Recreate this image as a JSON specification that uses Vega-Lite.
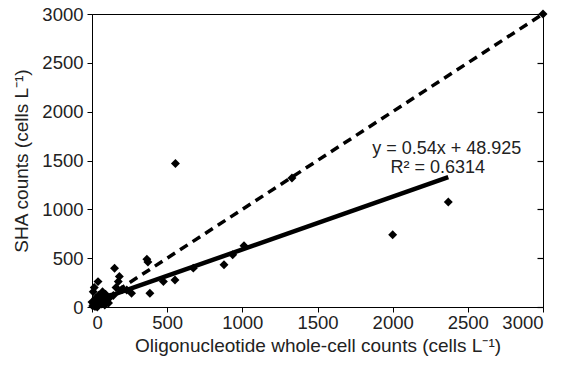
{
  "$schema": "https://vega.github.io/schema/vega-lite/v6.json",
  "width": 451,
  "height": 293,
  "autosize": {"type": "none"},
  "padding": {"left": 92, "top": 14, "right": 22, "bottom": 64},
  "background": "white",
  "config": {
    "view": {"stroke": "black", "strokeWidth": 1},
    "font": "Liberation Sans",
    "axis": {
      "grid": false,
      "domainColor": "black",
      "tickColor": "black",
      "labelColor": "#222",
      "titleColor": "#222",
      "labelFont": "Liberation Sans",
      "titleFont": "Liberation Sans",
      "labelFontSize": 18.5,
      "titleFontSize": 19,
      "titleFontWeight": "normal",
      "tickSize": 5,
      "format": "d"
    }
  },
  "datasets": {
    "pts": [
      {"x": 5, "y": 10}, {"x": 10, "y": 30}, {"x": 15, "y": 60}, {"x": 20, "y": 5},
      {"x": 25, "y": 90}, {"x": 30, "y": 20}, {"x": 8, "y": 157}, {"x": 40, "y": 260},
      {"x": 50, "y": 40}, {"x": 60, "y": 110}, {"x": 70, "y": 157}, {"x": 75, "y": 60},
      {"x": 85, "y": 20}, {"x": 90, "y": 130}, {"x": 100, "y": 80}, {"x": 110, "y": 40},
      {"x": 120, "y": 100}, {"x": 142, "y": 118}, {"x": 150, "y": 397}, {"x": 160, "y": 200},
      {"x": 175, "y": 260}, {"x": 182, "y": 312}, {"x": 200, "y": 180}, {"x": 231, "y": 175},
      {"x": 263, "y": 141}, {"x": 365, "y": 490}, {"x": 372, "y": 460}, {"x": 385, "y": 141},
      {"x": 475, "y": 260}, {"x": 552, "y": 277}, {"x": 555, "y": 1470}, {"x": 674, "y": 398},
      {"x": 878, "y": 432}, {"x": 936, "y": 534}, {"x": 1011, "y": 627}, {"x": 1330, "y": 1320},
      {"x": 2000, "y": 740}, {"x": 2370, "y": 1075}, {"x": 35, "y": 0}, {"x": 0, "y": 50},
      {"x": 45, "y": 120}, {"x": 15, "y": 200}, {"x": 65, "y": 30}, {"x": 3000, "y": 3000}
    ],
    "fit": [{"x": 0, "y": 48.925}, {"x": 2370, "y": 1328.7}],
    "oneone": [{"x": 0, "y": 0}, {"x": 3000, "y": 3000}],
    "notes": [
      {"x": 2360, "y": 1614, "label": "y = 0.54x + 48.925"},
      {"x": 2300, "y": 1425, "label": "R² = 0.6314"}
    ]
  },
  "layer": [
    {
      "data": {"name": "oneone"},
      "mark": {"type": "line", "color": "black", "strokeWidth": 3.5, "strokeDash": [9, 6]},
      "encoding": {
        "x": {"field": "x", "type": "quantitative", "scale": {"domain": [0, 3000], "nice": false},
              "axis": {"values": [0, 500, 1000, 1500, 2000, 2500, 3000], "title": "Oligonucleotide whole-cell counts (cells L⁻¹)", "titlePadding": 5, "labelPadding": 1}},
        "y": {"field": "y", "type": "quantitative", "scale": {"domain": [0, 3000], "nice": false},
              "axis": {"values": [0, 500, 1000, 1500, 2000, 2500, 3000], "title": "SHA counts (cells L⁻¹)", "titlePadding": 10, "labelPadding": 4}}
      }
    },
    {
      "data": {"name": "fit"},
      "mark": {"type": "line", "color": "black", "strokeWidth": 4.5},
      "encoding": {
        "x": {"field": "x", "type": "quantitative"},
        "y": {"field": "y", "type": "quantitative", "axis": {"orient": "right", "labels": false, "title": "", "ticks": true, "tickSize": 6, "tickWidth": 1.2, "tickColor": "black", "offset": -6, "domain": false, "values": [0, 500, 1000, 1500, 2000, 2500, 3000]}}
      }
    },
    {
      "data": {"name": "pts"},
      "mark": {"type": "point", "shape": "diamond", "filled": true, "color": "black", "size": 80, "opacity": 1},
      "encoding": {
        "x": {"field": "x", "type": "quantitative"},
        "y": {"field": "y", "type": "quantitative", "axis": null}
      }
    },
    {
      "data": {"name": "notes"},
      "mark": {"type": "text", "fontSize": 18, "color": "#222", "font": "Liberation Sans"},
      "encoding": {
        "x": {"field": "x", "type": "quantitative"},
        "y": {"field": "y", "type": "quantitative", "axis": null},
        "text": {"field": "label"}
      }
    }
  ],
  "resolve": {"axis": {"y": "independent"}}
}
